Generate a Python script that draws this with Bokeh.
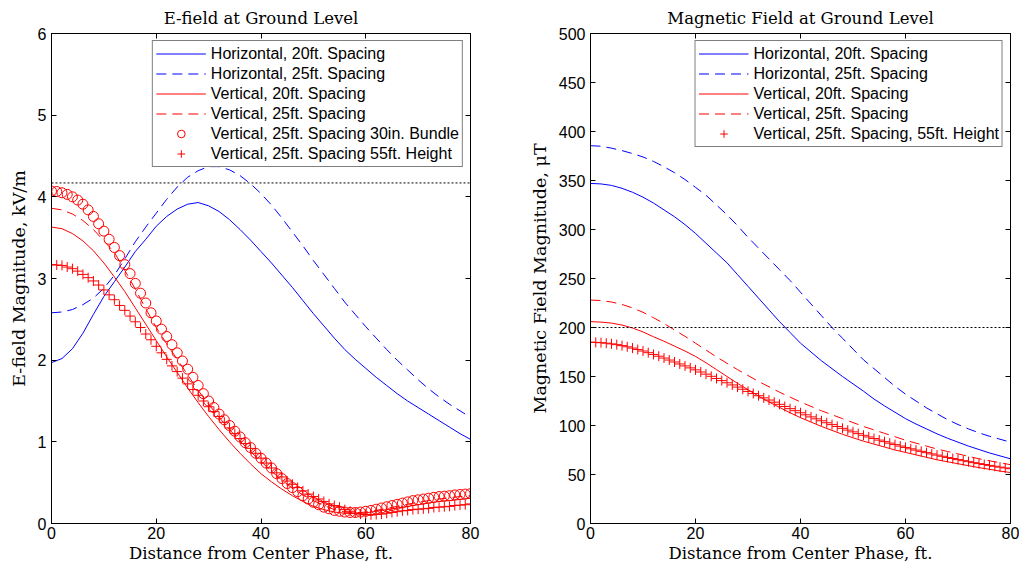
from bokeh.plotting import figure
from bokeh.layouts import row
from bokeh.models import Range1d, LinearAxis, Span, FixedTicker
from bokeh.embed import file_html
from bokeh.resources import INLINE

# ---------------- data ----------------
x_line = list(range(0, 81, 2))
x_mark = list(range(0, 81))

# E-field (kV/m)
e_h20 = [1.97, 2.02, 2.14, 2.33, 2.56, 2.78, 2.96, 3.14, 3.33, 3.48, 3.64, 3.76, 3.85, 3.91, 3.93, 3.89,
         3.82, 3.72, 3.60, 3.47, 3.33, 3.19, 3.04, 2.89, 2.73, 2.57, 2.42, 2.27, 2.13, 2.01, 1.90, 1.79,
         1.69, 1.59, 1.50, 1.42, 1.34, 1.26, 1.18, 1.10, 1.03]
e_h25 = [2.58, 2.59, 2.62, 2.68, 2.76, 2.88, 3.04, 3.24, 3.45, 3.63, 3.80, 3.97, 4.12, 4.24, 4.32, 4.37,
         4.37, 4.33, 4.26, 4.16, 4.04, 3.90, 3.74, 3.57, 3.40, 3.22, 3.05, 2.88, 2.71, 2.56, 2.41, 2.27,
         2.13, 2.00, 1.88, 1.76, 1.65, 1.55, 1.46, 1.38, 1.30]
e_v20 = [3.63, 3.61, 3.55, 3.46, 3.34, 3.19, 3.02, 2.84, 2.64, 2.44, 2.24, 2.04, 1.85, 1.66, 1.48, 1.31,
         1.15, 1.00, 0.86, 0.73, 0.61, 0.51, 0.42, 0.34, 0.27, 0.21, 0.17, 0.14, 0.125, 0.12, 0.13, 0.15,
         0.17, 0.19, 0.21, 0.23, 0.25, 0.27, 0.28, 0.295, 0.31]
e_v25 = [3.86, 3.84, 3.79, 3.71, 3.60, 3.46, 3.32, 3.10, 2.87, 2.63, 2.40, 2.20, 2.01, 1.82, 1.63, 1.46,
         1.30, 1.15, 1.01, 0.88, 0.76, 0.64, 0.53, 0.43, 0.35, 0.28, 0.22, 0.17, 0.14, 0.13, 0.14, 0.16,
         0.185, 0.21, 0.235, 0.26, 0.28, 0.30, 0.315, 0.33, 0.34]
e_bundle = [4.07, 4.065, 4.05, 4.03, 4.00, 3.96, 3.91, 3.84, 3.76, 3.67,
            3.58, 3.48, 3.38, 3.28, 3.17, 3.06, 2.94, 2.82, 2.70, 2.58,
            2.48, 2.38, 2.29, 2.19, 2.09, 1.99, 1.89, 1.79, 1.69, 1.59,
            1.50, 1.42, 1.34, 1.27, 1.20, 1.13, 1.06, 0.99, 0.93, 0.86,
            0.80, 0.74, 0.68, 0.61, 0.55, 0.49, 0.44, 0.39, 0.34, 0.30,
            0.26, 0.23, 0.20, 0.18, 0.16, 0.15, 0.14, 0.135, 0.135, 0.14,
            0.15, 0.16, 0.175, 0.19, 0.205, 0.22, 0.235, 0.25, 0.265, 0.28,
            0.29, 0.30, 0.31, 0.32, 0.33, 0.335, 0.34, 0.35, 0.355, 0.36, 0.365]
e_55ft = [3.17, 3.165, 3.16, 3.14, 3.12, 3.09, 3.05, 3.01, 2.97, 2.92,
          2.86, 2.80, 2.74, 2.67, 2.61, 2.54, 2.47, 2.40, 2.32, 2.25,
          2.17, 2.09, 2.01, 1.93, 1.86, 1.78, 1.71, 1.64, 1.57, 1.50,
          1.43, 1.37, 1.31, 1.24, 1.17, 1.10, 1.04, 0.98, 0.92, 0.86,
          0.80, 0.74, 0.68, 0.62, 0.57, 0.52, 0.48, 0.44, 0.40, 0.36,
          0.33, 0.30, 0.27, 0.24, 0.22, 0.20, 0.17, 0.15, 0.13, 0.115,
          0.11, 0.105, 0.11, 0.115, 0.125, 0.135, 0.145, 0.155, 0.16, 0.17,
          0.175, 0.18, 0.185, 0.195, 0.20, 0.205, 0.21, 0.22, 0.225, 0.23, 0.24]
e_limit = 4.17

# Magnetic field (uT)
b_h20 = [347, 346.5, 345, 342, 338, 333, 327, 320, 313, 305, 296, 286, 276, 266, 254, 242, 230, 218, 206,
         195, 184, 175, 166, 158, 150, 142.5, 135, 127, 120, 113.5, 107, 101.5, 96.5, 91.5, 87, 83, 79,
         75.5, 72, 69, 66]
b_h25 = [385.5, 385, 383, 380.5, 377.5, 374, 369.5, 364, 358, 351, 343, 335, 325, 315, 304, 292, 281, 270,
         259, 248, 236, 224, 212, 200, 189, 178, 167, 158, 149, 140, 132, 125, 118, 112, 106, 101, 96.5,
         92.5, 89, 86, 83]
b_v20 = [206, 205.5, 204.5, 202.5, 199.5, 195.5, 190.5, 186, 181, 176, 170.5, 164, 157, 150, 143, 136.5,
         130, 124, 118.5, 113, 108, 103.5, 99, 95, 91, 87.5, 84, 81, 78, 75, 72.5, 70, 67.5, 65, 63, 61,
         59, 57, 55.3, 53.5, 52]
b_v25 = [228, 227.5, 226, 223.5, 220, 215.5, 210, 204, 197.5, 191, 184, 177, 170, 163.5, 157, 151, 145,
         139.5, 134, 129, 124, 119.5, 115, 111, 107, 103, 99, 95.5, 92, 88.5, 85, 82, 79, 76, 73.5, 71,
         68.5, 66, 64, 62, 60]
b_55ft = [185, 184.8, 184.5, 184, 183.3, 182.5, 181.5, 180.3, 179, 177.5,
          176, 174.3, 172.5, 170.7, 168.8, 166.8, 164.8, 162.8, 160.8, 158.8,
          156.8, 154.6, 152.4, 150.2, 148, 145.8, 143.6, 141.4, 139.2, 137,
          134.8, 132.6, 130.4, 128.2, 126, 123.8, 121.6, 119.4, 117.2, 115.1,
          113, 110.9, 108.8, 106.8, 104.8, 102.8, 100.9, 99, 97.1, 95.3,
          93.5, 91.7, 90, 88.3, 86.7, 85.1, 83.5, 82, 80.5, 79,
          77.6, 76.2, 74.9, 73.6, 72.3, 71, 69.8, 68.6, 67.4, 66.3,
          65.2, 64.1, 63.1, 62.1, 61.1, 60.2, 59.3, 58.4, 57.5, 56.7, 55.9]
b_limit = 200

x_ticks = [0, 20, 40, 60, 80]
e_ticks = [0, 1, 2, 3, 4, 5, 6]
b_ticks = [0, 50, 100, 150, 200, 250, 300, 350, 400, 450, 500]

SERIF = "DejaVu Serif"
SANS = "Liberation Sans"
BLUE = "#0000ff"
RED = "#ff0000"


def box_axis(ticks):
    return LinearAxis(ticker=FixedTicker(ticks=ticks),
                      major_label_text_color=None,
                      major_label_text_font_size="1px",
                      major_label_standoff=0,
                      major_tick_in=5, major_tick_out=0, minor_tick_line_color=None,
                      axis_line_color="black", major_tick_line_color="black")


def style(p, yticks, ylabel):
    p.title.text_font = SERIF
    p.title.text_font_style = "normal"
    p.title.text_font_size = "16.5px"
    p.title.text_color = "black"
    p.title.align = "center"
    p.title.standoff = 11
    p.xgrid.visible = False
    p.ygrid.visible = False
    p.outline_line_color = "black"
    p.outline_line_width = 1
    p.background_fill_color = "white"
    p.border_fill_color = "white"
    for ax in (p.xaxis[0], p.yaxis[0]):
        ax.major_label_text_font = SANS
        ax.major_label_text_font_size = "16px"
        ax.major_label_text_color = "black"
        ax.axis_label_text_font = SERIF
        ax.axis_label_text_font_style = "normal"
        ax.axis_label_text_font_size = "16.5px"
        ax.axis_label_text_color = "black"
        ax.major_tick_in = 5
        ax.major_tick_out = 0
        ax.minor_tick_line_color = None
        ax.axis_line_color = "black"
        ax.major_tick_line_color = "black"
    p.xaxis[0].ticker = FixedTicker(ticks=x_ticks)
    p.yaxis[0].ticker = FixedTicker(ticks=yticks)
    p.xaxis[0].axis_label = "Distance from Center Phase, ft."
    p.yaxis[0].axis_label = ylabel
    p.yaxis[0].axis_label_text_font_size = "17.5px"
    p.xaxis[0].major_label_standoff = 3
    p.xaxis[0].axis_label_standoff = 2
    p.yaxis[0].major_label_standoff = 5
    p.yaxis[0].axis_label_standoff = 6
    p.add_layout(box_axis(yticks), "right")
    p.add_layout(box_axis(x_ticks), "above")


def style_legend(p):
    lg = p.legend[0]
    lg.location = "top_right"
    lg.margin = 7
    lg.padding = 3
    lg.spacing = 1
    lg.glyph_width = 50
    lg.glyph_height = 19
    lg.label_height = 19
    lg.label_standoff = 5
    lg.label_text_font = SANS
    lg.label_text_font_size = "16px"
    lg.label_text_color = "black"
    lg.border_line_color = "black"
    lg.border_line_width = 1
    lg.background_fill_alpha = 1


# ---------------- left: E-field ----------------
p1 = figure(width=510, height=571, output_backend="svg", toolbar_location=None,
            x_range=Range1d(0, 80), y_range=Range1d(0, 6),
            title="E-field at Ground Level",
            min_border_left=51, min_border_right=40, min_border_top=33, min_border_bottom=48)
style(p1, e_ticks, "E-field Magnitude, kV/m")
p1.add_layout(Span(location=e_limit, dimension="width", line_color="black",
                   line_width=1, line_dash="2 2"))
p1.line(x_line, e_h20, line_color=BLUE, line_width=1, legend_label="Horizontal, 20ft. Spacing")
p1.line(x_line, e_h25, line_color=BLUE, line_width=1, line_dash="10 6",
        legend_label="Horizontal, 25ft. Spacing")
p1.line(x_line, e_v20, line_color=RED, line_width=1, legend_label="Vertical, 20ft. Spacing")
p1.line(x_line, e_v25, line_color=RED, line_width=1, line_dash="10 6",
        legend_label="Vertical, 25ft. Spacing")
p1.scatter(x_mark, e_bundle, marker="circle", size=10, fill_color=None, line_color=RED,
           line_width=1, legend_label="Vertical, 25ft. Spacing 30in. Bundle")
p1.scatter(x_mark, e_55ft, marker="cross", size=10, line_color=RED, line_width=1,
           legend_label="Vertical, 25ft. Spacing 55ft. Height")
style_legend(p1)

# ---------------- right: Magnetic field ----------------
p2 = figure(width=509, height=571, output_backend="svg", toolbar_location=None,
            x_range=Range1d(0, 80), y_range=Range1d(0, 500),
            title="Magnetic Field at Ground Level",
            min_border_left=80, min_border_right=9, min_border_top=33, min_border_bottom=48)
style(p2, b_ticks, "Magnetic Field Magnitude, μT")
p2.add_layout(Span(location=b_limit, dimension="width", line_color="black",
                   line_width=1, line_dash="2 2"))
p2.line(x_line, b_h20, line_color=BLUE, line_width=1, legend_label="Horizontal, 20ft. Spacing")
p2.line(x_line, b_h25, line_color=BLUE, line_width=1, line_dash="10 6",
        legend_label="Horizontal, 25ft. Spacing")
p2.line(x_line, b_v20, line_color=RED, line_width=1, legend_label="Vertical, 20ft. Spacing")
p2.line(x_line, b_v25, line_color=RED, line_width=1, line_dash="10 6",
        legend_label="Vertical, 25ft. Spacing")
p2.scatter(x_mark, b_55ft, marker="cross", size=10, line_color=RED, line_width=1,
           legend_label="Vertical, 25ft. Spacing, 55ft. Height")
style_legend(p2)

layout = row(p1, p2)
open("out.html", "w").write(file_html(layout, INLINE))
